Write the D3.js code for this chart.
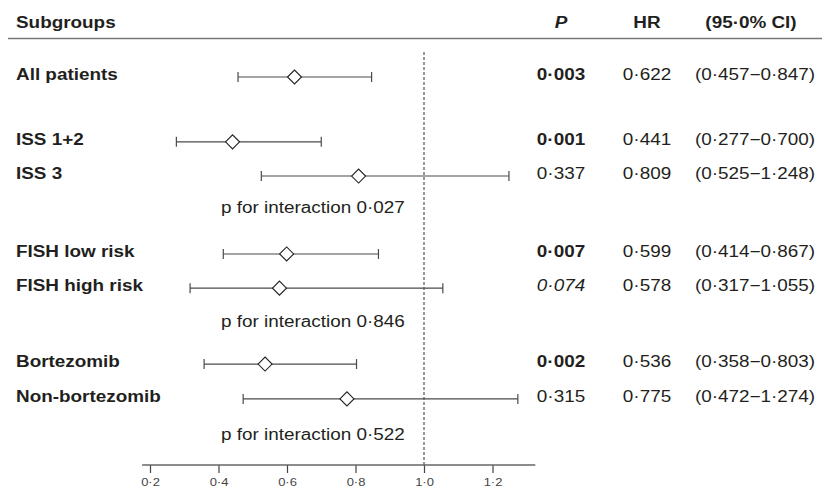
<!DOCTYPE html>
<html>
<head>
<meta charset="utf-8">
<script src="https://cdn.jsdelivr.net/npm/d3@7"></script>
<style>
  body { margin: 0; background: #fff; }
  text { font-family: "Liberation Sans", Arial, sans-serif; fill: #231f20; }
</style>
</head>
<body>
<div id="chart"></div>
<script>
// data
var subgroups = ["All patients", "ISS 1+2", "ISS 3", "FISH low risk", "FISH high risk", "Bortezomib", "Non-bortezomib"];
var hr      = [0.622, 0.441, 0.809, 0.599, 0.578, 0.536, 0.775];
var ciLow   = [0.457, 0.277, 0.525, 0.414, 0.317, 0.358, 0.472];
var ciHigh  = [0.847, 0.700, 1.248, 0.867, 1.055, 0.803, 1.274];
var pValues = [0.003, 0.001, 0.337, 0.007, 0.074, 0.002, 0.315];
var interactionP = [0.027, 0.846, 0.522];
var tickValues = [0.2, 0.4, 0.6, 0.8, 1.0, 1.2];

// row layout (in row units, gaps between groups)
var rowUnits = [0, 1.88, 2.87, 5.13, 6.12, 8.32, 9.33];
var interUnits = [3.86, 7.16, 10.43];

var width = 822, height = 489;
var stretch = 1.18; // glyphs in the figure are a bit wider than Arial

var svg = d3.select("#chart").append("svg")
  .attr("width", width)
  .attr("height", height);

var x = d3.scaleLinear().domain([0.2, 1.0]).range([150, 424]);
var y = d3.scaleLinear().domain([0, 1]).range([77, 111.5]);
var axisY = 465;

var fmt = function(v, f) { return d3.format(f)(v).replace(".", "\u00b7"); };

// header
svg.append("text").attr("class", "st").attr("x", 16).attr("y", 28)
  .attr("font-size", 16).attr("font-weight", "bold").text("Subgroups");
svg.append("text").attr("class", "st").attr("x", 561).attr("y", 28)
  .attr("text-anchor", "middle").attr("font-size", 16).attr("font-weight", "bold")
  .attr("font-style", "italic").text("P");
svg.append("text").attr("class", "st").attr("x", 647).attr("y", 28)
  .attr("text-anchor", "middle").attr("font-size", 16).attr("font-weight", "bold").text("HR");
svg.append("text").attr("class", "st").attr("x", 751).attr("y", 28)
  .attr("text-anchor", "middle").attr("font-size", 16).attr("font-weight", "bold").text("(95\u00b70% CI)");

svg.append("line")
  .attr("x1", 8).attr("x2", width).attr("y1", 38.5).attr("y2", 38.5)
  .style("stroke", "#777").style("stroke-width", 1.5);

// reference line at HR = 1
svg.append("line")
  .attr("x1", x(1)).attr("x2", x(1)).attr("y1", 52).attr("y2", axisY)
  .style("stroke", "#333").style("stroke-width", 1).style("stroke-dasharray", "3,2");

// axis
var axis = d3.axisBottom(x)
  .tickValues(tickValues)
  .tickSize(8)
  .tickFormat(function(d) { return fmt(d, ".1f"); });

var gAxis = svg.append("g")
  .attr("transform", "translate(0," + axisY + ")")
  .call(axis);
gAxis.select(".domain").remove();
gAxis.selectAll(".tick line").style("stroke", "#444").style("stroke-width", 1.2);
gAxis.selectAll(".tick text")
  .attr("class", "st")
  .attr("y", 13)
  .attr("font-size", 11)
  .style("font-family", "'Liberation Sans', Arial, sans-serif")
  .style("fill", "#444");

svg.append("line")
  .attr("x1", x(0.177)).attr("x2", x(1.325)).attr("y1", axisY).attr("y2", axisY)
  .style("stroke", "#666").style("stroke-width", 1.5);

var rows = subgroups.map(function(name, i) {
  return { name: name, hr: hr[i], lo: ciLow[i], hi: ciHigh[i], p: pValues[i], u: rowUnits[i] };
});

var g = svg.selectAll("g.row").data(rows).enter().append("g").attr("class", "row");

// CI line and caps
g.append("line")
  .attr("x1", function(d) { return x(d.lo); })
  .attr("x2", function(d) { return x(d.hi); })
  .attr("y1", function(d) { return y(d.u); })
  .attr("y2", function(d) { return y(d.u); })
  .style("stroke", "#4a4a4a").style("stroke-width", 1.2);

["lo", "hi"].forEach(function(k) {
  g.append("line")
    .attr("x1", function(d) { return x(d[k]); })
    .attr("x2", function(d) { return x(d[k]); })
    .attr("y1", function(d) { return y(d.u) - 5; })
    .attr("y2", function(d) { return y(d.u) + 5; })
    .style("stroke", "#4a4a4a").style("stroke-width", 1.2);
});

// diamond
g.append("path")
  .attr("d", function(d) {
    var cx = x(d.hr), cy = y(d.u), r = 7;
    return "M" + (cx - r) + "," + cy + "L" + cx + "," + (cy - r) + "L" + (cx + r) + "," + cy + "L" + cx + "," + (cy + r) + "Z";
  })
  .style("fill", "#fff").style("stroke", "#231f20").style("stroke-width", 1.1);

// labels
g.append("text").attr("class", "st")
  .attr("x", 16).attr("y", function(d) { return y(d.u) + 3; })
  .attr("font-size", 16).attr("font-weight", "bold")
  .text(function(d) { return d.name; });

g.append("text").attr("class", "st")
  .attr("x", 561).attr("y", function(d) { return y(d.u) + 3; })
  .attr("text-anchor", "middle").attr("font-size", 16)
  .attr("font-weight", function(d) { return d.p < 0.05 ? "bold" : "normal"; })
  .attr("font-style", function(d) { return d.p >= 0.05 && d.p < 0.1 ? "italic" : "normal"; })
  .text(function(d) { return fmt(d.p, ".3f"); });

g.append("text").attr("class", "st")
  .attr("x", 647).attr("y", function(d) { return y(d.u) + 3; })
  .attr("text-anchor", "middle").attr("font-size", 16)
  .text(function(d) { return fmt(d.hr, ".3f"); });

g.append("text").attr("class", "st")
  .attr("x", 755).attr("y", function(d) { return y(d.u) + 3; })
  .attr("text-anchor", "middle").attr("font-size", 16)
  .text(function(d) { return "(" + fmt(d.lo, ".3f") + "\u2212" + fmt(d.hi, ".3f") + ")"; });

// interaction p-values
svg.selectAll("text.inter").data(interactionP).enter().append("text")
  .attr("class", "inter st")
  .attr("x", 221)
  .attr("y", function(d, i) { return y(interUnits[i]) + 3; })
  .attr("font-size", 16)
  .text(function(d) { return "p for interaction " + fmt(d, ".3f"); });

// widen glyphs to match the source figure
svg.selectAll("text.st, .tick text").each(function() {
  var len = this.getComputedTextLength();
  d3.select(this).attr("textLength", len * stretch).attr("lengthAdjust", "spacingAndGlyphs");
});
</script>
</body>
</html>
